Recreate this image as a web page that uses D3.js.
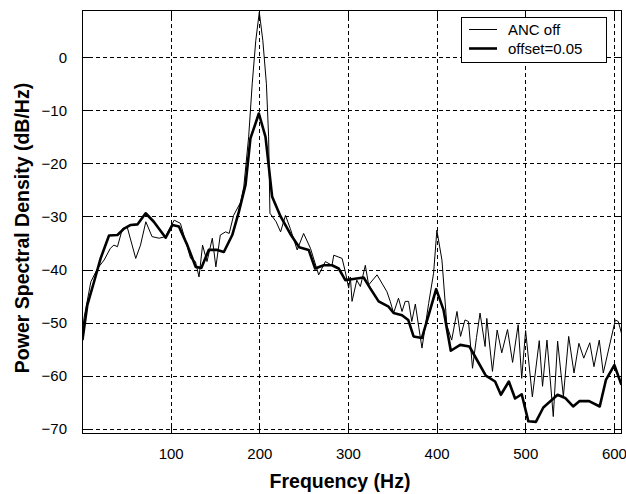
<!DOCTYPE html>
<html>
<head>
<meta charset="utf-8">
<script src="https://cdn.jsdelivr.net/npm/d3@7"></script>
<style>
  body { margin: 0; background: #fff; }
  svg { display: block; font-family: "Liberation Sans", Arial, sans-serif; }
</style>
</head>
<body>
<div id="chart"></div>
<script>
// plot size and margins
var w = 626, h = 494;
var margin = {top: 10, right: 5, bottom: 61, left: 82};

// tick values
var xTicks = [100, 200, 300, 400, 500, 600];
var yTicks = [0, -10, -20, -30, -40, -50, -60, -70];

// series 1: ANC off (thin)
var offFreq = [1, 2.4, 10, 17.5, 25, 32, 36, 40, 45.6, 51, 60.6, 66, 72, 79, 87, 94, 104, 111,
  122.5, 128, 132, 136, 141, 147, 151, 156, 162, 166, 171, 179, 182.5, 188, 192, 196, 200,
  204, 208, 210.5, 212, 219, 224, 229.5, 235, 242.7, 250, 257.7, 267, 274.5, 282, 284,
  293.4, 297, 300.8, 302.7, 304.6, 310, 314, 319.6, 323.3, 332.8, 344, 347.7, 351.5, 357,
  361, 364.6, 368.4, 372, 376, 380, 383.5, 391, 396.6, 400.3, 406, 411.6, 417, 423, 427,
  432, 436, 440.5, 445, 449, 454.7, 456.6, 463, 468.3, 473.5, 480, 485.7, 492, 496, 500.4,
  508, 515.8, 519.5, 524.5, 531.6, 536.5, 543, 549, 555, 560.5, 566, 572.8, 577.5, 583.5,
  588, 601.6, 605, 608.5];
var offPsd = [-51, -49, -42.3, -39.8, -38.2, -36, -35.4, -35.7, -32.3, -32, -37.9, -35.4, -31,
  -33.8, -34.1, -33.8, -30.7, -31.3, -37.9, -38.5, -41.4, -35.4, -38.5, -34.1, -39.5, -33.5,
  -32.9, -33.2, -29.8, -27.3, -24.4, -15, -5, 3.1, 8.5, 3.1, -5, -15, -29.4, -31, -32.9,
  -29.8, -32.3, -36.3, -33.2, -36, -41, -38.5, -39.2, -37.3, -37.9, -40.4, -43.5, -41.4,
  -46, -42, -43.2, -39.2, -42.9, -41, -44.2, -46, -48.2, -45.4, -47.9, -46, -46, -49.8,
  -46.5, -51, -54.8, -46.4, -40.7, -32.6, -38.2, -50.5, -53.3, -47.9, -52.6, -49.5, -49.8,
  -58.6, -52.8, -48.2, -54.5, -49.2, -59.2, -51.4, -55.7, -51.3, -57.5, -50.4, -60.5, -51.5,
  -64, -53.4, -62, -53.3, -67.7, -53.5, -63.9, -52.6, -59.5, -53.9, -56.7, -53.8, -58.3,
  -53.3, -59.5, -49.5, -49.8, -52];

// series 2: offset=0.05 (thick)
var ancFreq = [0.5, 6, 13.6, 21, 30.5, 40, 47.4, 55, 62.5, 71.8, 81, 94.4, 102, 109.3, 118.8,
  128.2, 134.6, 143, 152.6, 160, 169.5, 177, 184.5, 190, 199.5, 207, 214.5, 224, 235, 245,
  255.7, 263, 272.6, 282, 289.5, 297, 306, 317.7, 325, 334.6, 345.8, 351.5, 361, 368, 374,
  383.4, 391, 399.5, 407.8, 416, 426.6, 437, 445.4, 455.5, 466, 472.5, 481.5, 488.5, 496,
  503.5, 512, 520.4, 536.5, 545, 554, 561, 572, 584, 591, 600.5, 608.5];
var ancPsd = [-53.3, -46.7, -42.3, -37.9, -33.6, -33.5, -32.3, -31.6, -31.5, -29.4, -31, -34,
  -31.6, -31.9, -35.4, -39.5, -39.7, -36.3, -36.3, -36.7, -33.5, -29.1, -24, -15.3, -10.6,
  -15, -26.3, -30, -33.3, -35.8, -36.3, -39.8, -39.2, -39.2, -39.8, -42, -41.8, -41.5,
  -43.5, -46, -47, -48.2, -48.6, -49.5, -52.6, -52.9, -48.6, -43.7, -47.6, -55.3, -54.2,
  -54.5, -57, -60, -61.1, -63.6, -61.1, -64.3, -63.5, -68.6, -68.7, -66, -63.6, -64.2,
  -65.8, -64.8, -64.8, -65.8, -60.8, -58, -61.7];

var seriesNames = ["ANC off", "offset=0.05"];

var svg = d3.select("#chart")
  .append("svg")
    .attr("width", w)
    .attr("height", h);

var x = d3.scaleLinear()
    .domain([0, 608])
    .range([margin.left, w - margin.right]);

var y = d3.scaleLinear()
    .domain([-70.8, 8.9])
    .range([h - margin.bottom, margin.top]);

// clip for the data lines
svg.append("clipPath")
    .attr("id", "plotclip")
  .append("rect")
    .attr("x", x.range()[0])
    .attr("y", y.range()[1])
    .attr("width", x.range()[1] - x.range()[0])
    .attr("height", y.range()[0] - y.range()[1]);

// dashed grid
var grid = svg.append("g").attr("class", "grid")
    .style("stroke", "#000")
    .style("stroke-width", 1)
    .style("stroke-dasharray", "4,3")
    .attr("shape-rendering", "crispEdges");

grid.selectAll(".vgrid")
  .data(xTicks).enter()
  .append("line")
    .attr("x1", function(d) { return Math.round(x(d)) + 0.5; })
    .attr("x2", function(d) { return Math.round(x(d)) + 0.5; })
    .attr("y1", y.range()[1])
    .attr("y2", y.range()[0]);

grid.selectAll(".hgrid")
  .data(yTicks).enter()
  .append("line")
    .attr("y1", function(d) { return Math.round(y(d)) + 0.5; })
    .attr("y2", function(d) { return Math.round(y(d)) + 0.5; })
    .attr("x1", x.range()[0])
    .attr("x2", x.range()[1]);

// lines
var line = d3.line()
    .x(function(d) { return x(d[0]); })
    .y(function(d) { return y(d[1]); });

var offData = offFreq.map(function(f, i) { return [f, offPsd[i]]; });
var ancData = ancFreq.map(function(f, i) { return [f, ancPsd[i]]; });

svg.append("path")
    .datum(offData)
    .attr("clip-path", "url(#plotclip)")
    .attr("fill", "none")
    .attr("stroke", "#000")
    .attr("stroke-width", 1)
    .attr("stroke-linejoin", "miter")
    .attr("d", line);

svg.append("path")
    .datum(ancData)
    .attr("clip-path", "url(#plotclip)")
    .attr("fill", "none")
    .attr("stroke", "#000")
    .attr("stroke-width", 2.6)
    .attr("stroke-linejoin", "round")
    .attr("d", line);

// axes: inward ticks on all four sides
var xBottom = svg.append("g")
    .attr("transform", "translate(0," + y.range()[0] + ")")
    .call(d3.axisBottom(x).tickValues(xTicks).tickSize(-7).tickPadding(15));
var xTop = svg.append("g")
    .attr("transform", "translate(0," + y.range()[1] + ")")
    .call(d3.axisTop(x).tickValues(xTicks).tickSize(-7).tickFormat(""));
var yLeft = svg.append("g")
    .attr("transform", "translate(" + x.range()[0] + ",0)")
    .call(d3.axisLeft(y).tickValues(yTicks).tickSize(-7).tickPadding(15));
var yRight = svg.append("g")
    .attr("transform", "translate(" + x.range()[1] + ",0)")
    .call(d3.axisRight(y).tickValues(yTicks).tickSize(-7).tickFormat(""));

[xBottom, xTop, yLeft, yRight].forEach(function(a) {
  a.select(".domain").remove();
  a.selectAll("line").attr("stroke", "#000").attr("shape-rendering", "crispEdges");
  a.selectAll("text")
    .style("font-family", "'Liberation Sans', Arial, sans-serif")
    .style("font-size", "15px")
    .attr("fill", "#000");
});

// frame
svg.append("rect")
    .attr("x", x.range()[0] + 0.5)
    .attr("y", y.range()[1] + 0.5)
    .attr("width", x.range()[1] - x.range()[0])
    .attr("height", y.range()[0] - y.range()[1])
    .attr("fill", "none")
    .attr("stroke", "#000")
    .attr("shape-rendering", "crispEdges");

// axis titles
svg.append("text")
    .attr("x", 340)
    .attr("y", 488)
    .attr("text-anchor", "middle")
    .style("font-size", "19.5px")
    .style("font-weight", "bold")
    .text("Frequency (Hz)");

svg.append("text")
    .attr("transform", "translate(29,228) rotate(-90)")
    .attr("text-anchor", "middle")
    .style("font-size", "19.5px")
    .style("font-weight", "bold")
    .text("Power Spectral Density (dB/Hz)");

// legend
var legend = svg.append("g").attr("transform", "translate(461,17)");
legend.append("rect")
    .attr("x", 0.5).attr("y", 0.5)
    .attr("width", 145).attr("height", 45)
    .attr("fill", "#fff")
    .attr("stroke", "#000")
    .attr("shape-rendering", "crispEdges");

seriesNames.forEach(function(name, i) {
  var ly = 12.5 + i * 19;
  legend.append("line")
      .attr("x1", 8).attr("x2", 36)
      .attr("y1", ly).attr("y2", ly)
      .attr("stroke", "#000")
      .attr("stroke-width", i == 0 ? 1 : 2.6);
  legend.append("text")
      .attr("x", 47)
      .attr("y", ly + 5)
      .style("font-size", "15px")
      .text(name);
});
</script>
</body>
</html>
